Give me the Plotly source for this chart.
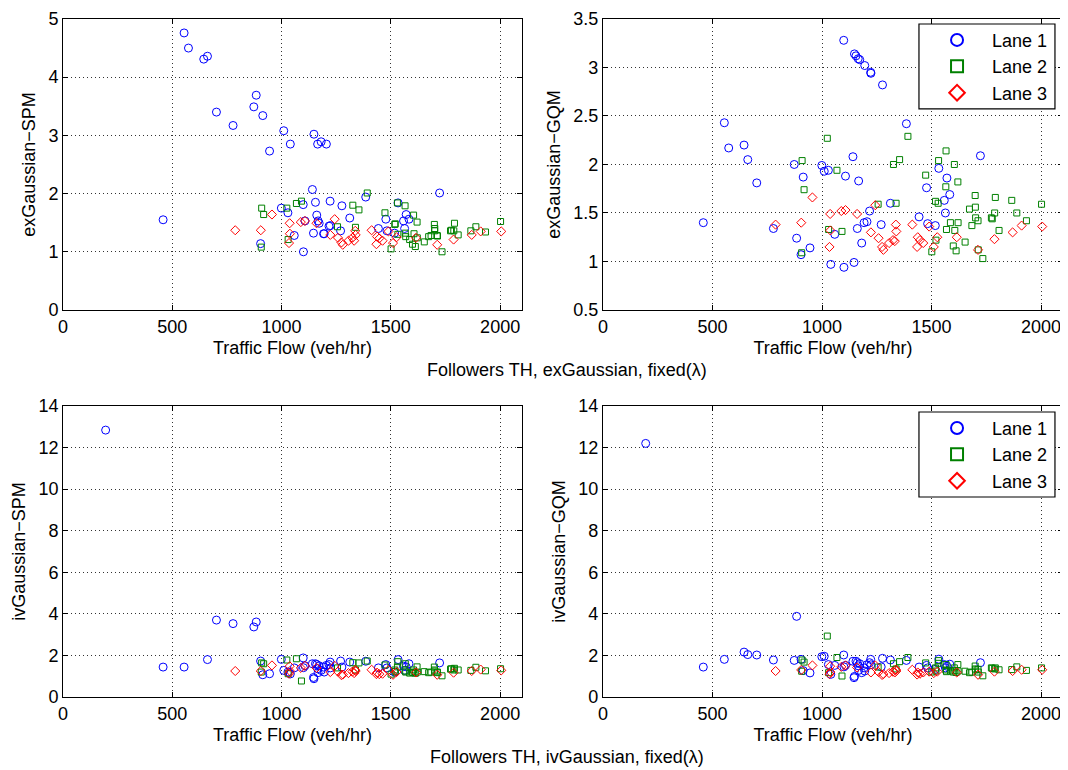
import plotly.graph_objects as go
from plotly.subplots import make_subplots

# Lane 1 (traffic flow, veh/hr) and the four measures
lane1_flow = [195, 458, 554, 574, 644, 661, 702, 778, 873, 884, 904, 914, 945, 999, 1010, 1029,
              1040, 1058, 1099, 1100, 1107, 1141, 1146, 1148, 1155, 1161, 1165, 1167, 1172, 1181,
              1192, 1195, 1205, 1217, 1222, 1223, 1270, 1276, 1312, 1385, 1443, 1477, 1482, 1517,
              1533, 1558, 1563, 1570, 1583, 1723]
lane1_ex_spm = [None, 1.55, 4.76, 4.50, 4.31, 4.36, 3.40, 3.17, 3.49, 3.69, 1.14, 3.34, 2.73, 1.75, 3.08, 1.67,
                2.85, 1.28, 1.81, 1.00, 1.53, 2.07, 1.32, 3.02, 1.85, 1.63, 2.85, 1.53, 1.49, 2.89,
                1.31, 1.31, 2.85, 1.44, 1.87, 1.45, 1.36, 1.79, 1.58, 1.94, 1.40, 1.56, 1.36, 1.32,
                1.84, 1.53, 1.40, 1.64, 1.56, 2.01]
lane1_ex_gqm = [None, 1.40, 2.43, 2.17, 2.20, 2.05, 1.81, 1.34, 2.00, 1.24, 1.07, 1.87, 1.14, 1.99, 1.93, 1.94,
                0.97, 1.28, 3.28, 0.94, 1.88, 2.08, 0.99, 3.14, 3.12, 1.34, 3.09, 1.83, 3.08, 1.19,
                1.40, 3.02, 1.41, 1.52, 2.95, 2.94, 1.38, 2.82, 1.60, 2.42, 1.46, 1.76, 1.39, 1.37,
                1.96, 1.63, 1.50, 1.86, 1.69, 2.09]
lane1_iv_spm = [12.84, 1.44, 1.44, None, None, 1.80, 3.70, 3.53, 3.37, 3.61, 1.73, 1.07, 1.12, 1.81, 1.28, 1.20,
                1.11, 1.40, 1.88, 1.41, 1.50, 1.60, 0.94, 0.88, 1.60, 1.56, 1.36, 1.17, 1.50, 1.28,
                1.44, 1.20, 1.52, 1.56, 1.68, 1.40, 1.73, 1.44, 1.68, 1.72, 1.40, 1.56, 1.40, 1.20,
                1.80, 1.48, 1.28, 1.45, 1.60, 1.64]
lane1_iv_gqm = [12.20, 1.44, 1.81, None, 2.16, 2.04, 2.02, 1.78, 1.76, 3.88, 1.81, 1.27, 1.16, 1.94, 1.96, 1.56,
                1.09, 1.52, 2.02, 1.45, 1.52, 1.72, 0.93, 0.99, 1.72, 1.65, 1.50, 1.28, 1.60, 1.17,
                1.40, 1.25, 1.55, 1.65, 1.81, 1.55, 1.45, 1.86, 1.78, 1.76, 1.44, 1.52, 1.40, 1.33,
                1.82, 1.56, 1.40, 1.48, 1.58, 1.65]

# Lane 2
lane2_flow = [907, 909, 918, 1024, 1030, 1068, 1091, 1256, 1326, 1338, 1354, 1392, 1473, 1501, 1518, 1520,
              1530, 1532, 1565, 1566, 1568, 1586, 1599, 1604, 1606, 1612, 1620, 1621, 1653, 1673, 1684,
              1699, 1700, 1701, 1712, 1713, 1734, 1773, 1777, 1788, 1791, 1808, 1866, 1889, 1933, 2002]
lane2_ex_spm = [1.08, 1.75, 1.64, 1.75, 1.21, 1.83, 1.87, 1.43, 1.80, 1.42, 1.72, 2.01, 1.67, 1.05, 1.47, 1.48,
                1.84, 1.30, 1.79, 1.32, 1.26, 1.21, 1.13, 1.63, 1.31, 1.09, 1.51, 1.24, 1.17, 1.26, 1.28,
                1.47, 1.36, 1.40, 1.28, 1.27, 1.00, 1.36, 1.37, 1.36, 1.49, 1.29, 1.36, 1.43, 1.34, 1.52]
lane2_ex_gqm = [1.09, 2.04, 1.74, 2.27, 1.33, 1.94, 1.31, 1.59, 2.00, 1.60, 2.05, 2.29, 1.89, 1.10, 1.62, 1.22,
                1.60, 2.04, 1.77, 2.14, 1.33, 1.40, 1.16, 2.00, 1.32, 1.11, 1.82, 1.40, 1.20, 1.54, 1.37,
                1.68, 1.56, 1.45, 1.42, 1.12, 1.03, 1.45, 1.44, 1.50, 1.66, 1.32, 1.63, 1.50, 1.42, 1.59]
lane2_iv_spm = [1.20, 1.64, 1.60, 1.78, 1.12, 1.84, 0.77, 1.40, 1.65, 1.30, 1.64, 1.73, 1.54, 1.10, 1.30, 1.22,
                1.45, 1.70, 1.25, 1.60, 1.20, 1.15, 1.18, 1.30, 1.20, 1.14, 1.45, 1.20, 1.22, 1.17, 1.20,
                1.44, 1.30, 1.25, 1.17, 1.20, 1.02, 1.34, 1.36, 1.30, 1.38, 1.30, 1.28, 1.43, 1.26, 1.36]
lane2_iv_gqm = [1.24, 1.78, 1.68, 2.93, 1.17, 1.90, 1.01, 1.44, 1.60, 1.35, 1.70, 1.90, 1.64, 1.20, 1.40, 1.25,
                1.62, 1.75, 1.30, 1.56, 1.22, 1.25, 1.20, 1.40, 1.28, 1.18, 1.56, 1.25, 1.24, 1.17, 1.20,
                1.49, 1.35, 1.30, 1.33, 1.20, 1.02, 1.40, 1.38, 1.35, 1.40, 1.31, 1.32, 1.45, 1.28, 1.40]

# Lane 3
lane3_flow = [788, 905, 956, 1034, 1037, 1038, 1088, 1107, 1160, 1223, 1243, 1258, 1274, 1280, 1306, 1324,
              1332, 1337, 1339, 1412, 1434, 1437, 1447, 1462, 1489, 1510, 1526, 1615, 1712, 1787, 1870,
              1911, 2005]
lane3_ex_spm = [1.37, 1.37, 1.64, 1.15, 1.49, 1.31, 1.51, 1.53, 1.49, 1.29, 1.56, 1.24, 1.16, 1.12, 1.19, 1.24,
                1.19, 1.36, 1.29, 1.37, 1.13, 1.26, 1.23, 1.19, 1.35, 1.15, 1.25, 1.24, 1.12, 1.21, 1.29,
                1.35, 1.35]
lane3_ex_gqm = [1.38, 1.40, 1.66, 1.15, 1.49, 1.32, 1.52, 1.53, 1.49, 1.30, 1.58, 1.24, 1.15, 1.12, 1.19, 1.22,
                1.21, 1.38, 1.31, 1.38, 1.15, 1.25, 1.22, 1.19, 1.36, 1.15, 1.25, 1.25, 1.12, 1.23, 1.30,
                1.37, 1.36]
lane3_iv_spm = [1.25, 1.25, 1.52, 1.12, 1.48, 1.25, 1.40, 1.50, 1.40, 1.20, 1.50, 1.22, 1.05, 1.08, 1.15, 1.22,
                1.15, 1.30, 1.25, 1.31, 1.10, 1.17, 1.10, 1.12, 1.30, 1.07, 1.20, 1.18, 1.07, 1.17, 1.25,
                1.32, 1.28]
lane3_iv_gqm = [1.25, 1.30, 1.52, 1.10, 1.48, 1.20, 1.45, 1.52, 1.42, 1.18, 1.52, 1.20, 1.06, 1.10, 1.15, 1.22,
                1.18, 1.32, 1.25, 1.31, 1.08, 1.18, 1.12, 1.18, 1.22, 1.15, 1.22, 1.18, 1.07, 1.22, 1.25,
                1.31, 1.31]

lane_names = ["Lane 1", "Lane 2", "Lane 3"]
y_titles = ["exGaussian\u2212SPM", "exGaussian\u2212GQM", "ivGaussian\u2212SPM", "ivGaussian\u2212GQM"]
x_title = "Traffic Flow (veh/hr)"
suptitles = ["Followers TH, exGaussian, fixed(\u03bb)", "Followers TH, ivGaussian, fixed(\u03bb)"]

FONT = "Liberation Sans, Arial, Helvetica, sans-serif"
styles = [
    dict(symbol="circle-open", size=8, color="#0000ff"),
    dict(symbol="square-open", size=6, color="#008000"),
    dict(symbol="diamond-open", size=7, color="#ff0000"),
]

panels = [
    (1, 1, [lane1_ex_spm, lane2_ex_spm, lane3_ex_spm], None),
    (1, 2, [lane1_ex_gqm, lane2_ex_gqm, lane3_ex_gqm], "legend"),
    (2, 1, [lane1_iv_spm, lane2_iv_spm, lane3_iv_spm], None),
    (2, 2, [lane1_iv_gqm, lane2_iv_gqm, lane3_iv_gqm], "legend2"),
]
flows = [lane1_flow, lane2_flow, lane3_flow]

# page body has an 8px margin, so the figure is a bit smaller than the window
W, H = 1060, 762

fig = make_subplots(rows=2, cols=2)

for row, col, ys, leg in panels:
    for i in range(3):
        st = styles[i]
        fig.add_trace(
            go.Scatter(
                x=flows[i], y=ys[i], mode="markers", name=lane_names[i],
                marker=dict(symbol=st["symbol"], size=st["size"], color=st["color"],
                            line=dict(width=1, color=st["color"])),
                showlegend=leg is not None,
                legend=leg if leg else "legend",
            ),
            row=row, col=col,
        )

# Axes
axis_common = dict(
    showline=True, linecolor="black", linewidth=1, mirror="ticks",
    ticks="inside", ticklen=5, tickcolor="black",
    showgrid=True, gridcolor="#333333", griddash="1px,3px", gridwidth=1,
    zeroline=False, automargin=False,
    tickfont=dict(family=FONT, size=18, color="black"),
)
x_domains = [[0.0519, 0.4849], [0.5613, 0.9953]]
y_domains = [[0.6037, 0.9856], [0.0958, 0.4777]]
y_ranges = [[0, 5], [0.5, 3.5], [0, 14], [0, 14]]
y_dticks = [1, 0.5, 2, 2]

for k in range(4):
    r, c = divmod(k, 2)
    sfx = "" if k == 0 else str(k + 1)
    fig.layout["xaxis" + sfx].update(
        domain=x_domains[c], range=[0, 2100], dtick=500, tick0=0,
        title=dict(text=x_title, font=dict(family=FONT, size=18, color="black"), standoff=5),
        **axis_common)
    fig.layout["yaxis" + sfx].update(
        domain=y_domains[r], range=y_ranges[k], dtick=y_dticks[k], tick0=0,
        title=dict(text=y_titles[k], font=dict(family=FONT, size=18, color="black"), standoff=8),
        **axis_common)

# Legend boxes drawn as shapes, legends themselves borderless on top
legend_common = dict(
    bgcolor="rgba(0,0,0,0)", borderwidth=0,
    font=dict(family=FONT, size=18, color="black"),
    itemsizing="constant", itemwidth=60, xanchor="left", yanchor="top",
    tracegroupgap=0,
)
fig.update_layout(
    legend=dict(x=0.8623, y=0.982, **legend_common),
    legend2=dict(x=0.8623, y=0.4728, **legend_common),
)
for y0, y1 in [(0.8675, 0.979), (0.3583, 0.4698)]:
    fig.add_shape(type="rect", xref="paper", yref="paper", x0=0.8594, x1=0.9877, y0=y0, y1=y1,
                  fillcolor="white", line=dict(color="black", width=1.2), layer="above")

for text, ypos in zip(suptitles, [0.5249, 0.0171]):
    fig.add_annotation(text=text, x=0.5274, y=ypos, xref="paper", yref="paper",
                       showarrow=False, xanchor="center", yanchor="middle",
                       font=dict(family=FONT, size=18, color="black"))

fig.update_layout(
    width=W, height=H,
    margin=dict(l=0, r=0, t=0, b=0),
    paper_bgcolor="white", plot_bgcolor="white",
    font=dict(family=FONT, size=18, color="black"),
)

fig.write_html("out.html")
